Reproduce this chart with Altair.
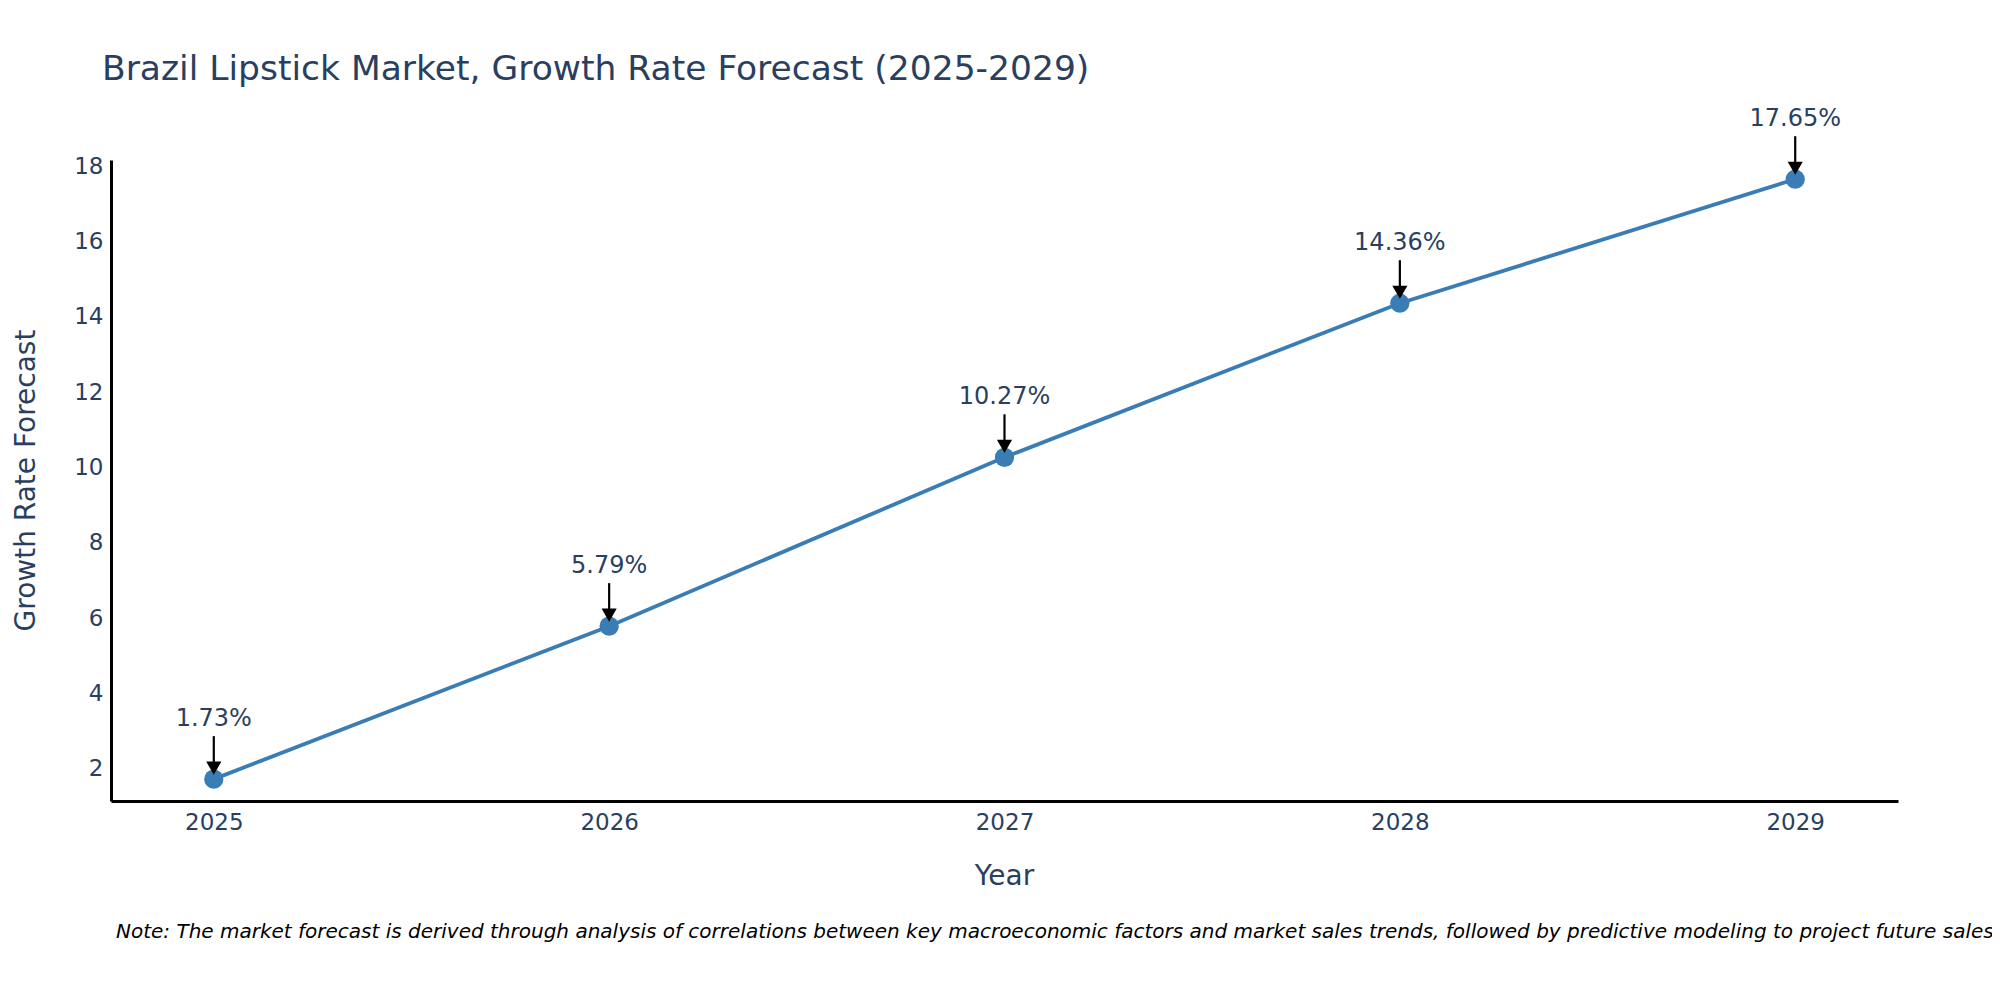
import altair as alt
import pandas as pd

years = [2025, 2026, 2027, 2028, 2029]
growth = [1.73, 5.79, 10.27, 14.36, 17.65]
labels = ["1.73%", "5.79%", "10.27%", "14.36%", "17.65%"]
y_ticks = [2, 4, 6, 8, 10, 12, 14, 16, 18]

TITLE = "Brazil Lipstick Market, Growth Rate Forecast (2025-2029)"
NOTE = ("Note: The market forecast is derived through analysis of correlations between key macroeconomic "
        "factors and market sales trends, followed by predictive modeling to project future sales.")

df = pd.DataFrame({"Year": years, "Growth": growth, "Label": labels})

FONT = "DejaVu Sans"
TXT = "#2a3f5f"
BLUE = "#3a7db4"

x_enc = alt.X("Year:Q",
              scale=alt.Scale(domain=[2024.74, 2029.26], nice=False, zero=False),
              axis=alt.Axis(values=years, format="d", title="Year", grid=False, ticks=False,
                            labelPadding=10, labelFontSize=23, labelColor=TXT, labelFont=FONT,
                            titleFontSize=28, titleColor=TXT, titleFont=FONT, titleFontWeight="normal",
                            titleX=893, titleY=75, titleBaseline="middle", titleAlign="center",
                            domainColor="black", domainWidth=3))
y_enc = alt.Y("Growth:Q",
              scale=alt.Scale(domain=[1.15, 18.16], nice=False, zero=False),
              axis=alt.Axis(values=y_ticks, title="Growth Rate Forecast", grid=False, ticks=False,
                            labelPadding=8, labelFontSize=23, labelColor=TXT, labelFont=FONT,
                            titleFontSize=28, titleColor=TXT, titleFont=FONT, titleFontWeight="normal",
                            titleAngle=270, titleX=-85, titleY=320, titleBaseline="middle",
                            titleAlign="center", domainColor="black", domainWidth=3))

base = alt.Chart(df)

line = base.mark_line(color=BLUE, strokeWidth=3.8).encode(x=x_enc, y=y_enc)
points = base.mark_circle(color=BLUE, size=370, opacity=1).encode(x="Year:Q", y="Growth:Q")
arrow_shaft = base.mark_rule(color="black", strokeWidth=2.2, yOffset=-43, y2Offset=-16).encode(
    x="Year:Q", y="Growth:Q", y2="Growth:Q")
arrow_head = base.mark_point(shape="triangle-down", filled=True, color="black", size=230,
                             opacity=1, yOffset=-11).encode(x="Year:Q", y="Growth:Q")
label_text = base.mark_text(dy=-60, fontSize=24, color=TXT, font=FONT, baseline="middle").encode(
    x="Year:Q", y="Growth:Q", text="Label:N")

title_text = alt.Chart(pd.DataFrame({"t": [TITLE]})).mark_text(
    align="left", baseline="alphabetic", fontSize=34.5, color=TXT, font=FONT
).encode(x=alt.value(-9), y=alt.value(-80), text="t:N")

note_text = alt.Chart(pd.DataFrame({"t": [NOTE]})).mark_text(
    align="left", baseline="middle", fontSize=20, color="#000000", font=FONT, fontStyle="italic"
).encode(x=alt.value(5), y=alt.value(772), text="t:N")

chart = alt.layer(line, points, arrow_shaft, arrow_head, label_text, title_text, note_text).properties(
    width=1787, height=641,
    background="white",
    autosize=alt.AutoSizeParams(type="none"),
    padding={"left": 103, "top": 152, "right": 94, "bottom": 191},
).configure_view(strokeWidth=0, stroke="transparent")

chart.save("out.html", embed_options={"renderer": "svg", "actions": False})
